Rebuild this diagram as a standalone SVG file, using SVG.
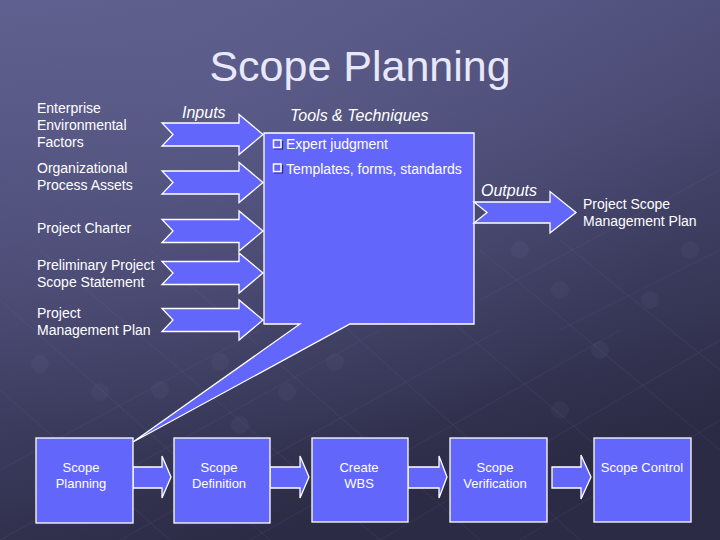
<svg xmlns="http://www.w3.org/2000/svg" width="720" height="540" viewBox="0 0 720 540">
<defs>
  <linearGradient id="bg" x1="0" y1="0" x2="0.35" y2="1">
    <stop offset="0" stop-color="#5e5e8e"/>
    <stop offset="0.45" stop-color="#4a4a74"/>
    <stop offset="1" stop-color="#2b2b45"/>
  </linearGradient>
  <radialGradient id="glow" cx="0.3" cy="0.15" r="0.7">
    <stop offset="0" stop-color="#6a6a9a" stop-opacity="0.35"/>
    <stop offset="1" stop-color="#6a6a9a" stop-opacity="0"/>
  </radialGradient>
  <style>
    .shape { fill: #6366fa; stroke: #ffffff; stroke-width: 1.3; stroke-linejoin: miter; }
    .lbl { font-family: "Liberation Sans", Arial, sans-serif; font-size: 14px; fill: #ffffff; }
    .it { font-family: "Liberation Sans", Arial, sans-serif; font-size: 16px; font-style: italic; fill: #ffffff; }
    .box { font-family: "Liberation Sans", Arial, sans-serif; font-size: 13px; fill: #ffffff; text-anchor: middle; }
    .grid { stroke: #8a8ab8; stroke-opacity: 0.09; stroke-width: 1.2; fill: none; }
    .dot { fill: #8a8ab8; fill-opacity: 0.07; }
    .chk { fill: none; stroke: #ffffff; stroke-width: 1.5; }
    .chks { fill: none; stroke: #2a2a70; stroke-width: 1.2; }
  </style>
</defs>

<rect x="0" y="0" width="720" height="540" fill="url(#bg)"/>
<rect x="0" y="0" width="720" height="540" fill="url(#glow)"/>

<g id="background-grid">
  <path class="grid" d="M0,390 L170,540 M0,300 L270,540 M40,250 L380,540 M150,250 L480,540 M260,250 L580,540 M380,260 L660,500 M480,250 L720,450 M560,240 L720,370"/>
  <path class="grid" d="M0,470 L260,330 M0,540 L380,330 M120,540 L500,330 M250,540 L620,330 M380,540 L720,340 M520,540 L720,420 M480,300 L720,170 M560,330 L720,250"/>
  <circle class="dot" cx="40" cy="364" r="9"/>
  <circle class="dot" cx="100" cy="392" r="9"/>
  <circle class="dot" cx="160" cy="390" r="9"/>
  <circle class="dot" cx="220" cy="362" r="9"/>
  <circle class="dot" cx="240" cy="425" r="9"/>
  <circle class="dot" cx="287" cy="392" r="9"/>
  <circle class="dot" cx="335" cy="362" r="9"/>
  <circle class="dot" cx="560" cy="410" r="9"/>
  <circle class="dot" cx="600" cy="350" r="9"/>
  <circle class="dot" cx="650" cy="300" r="9"/>
  <circle class="dot" cx="690" cy="250" r="9"/>
  <circle class="dot" cx="520" cy="250" r="9"/>
  <circle class="dot" cx="560" cy="290" r="9"/>
</g>

<text x="360" y="81" text-anchor="middle" font-family="'Liberation Sans', Arial, sans-serif" font-size="43" fill="#e8e8fb">Scope Planning</text>

<g id="connectors">
  <polygon class="shape" points="162,123 239,123 239,114.5 263,134.5 239,154.5 239,146 162,146 173,134.5"/>
  <polygon class="shape" points="162,171 239,171 239,162.5 263,182.5 239,202.5 239,194 162,194 173,182.5"/>
  <polygon class="shape" points="162,219.5 239,219.5 239,211 263,231 239,251 239,242.5 162,242.5 173,231"/>
  <polygon class="shape" points="162,261.5 239,261.5 239,253 263,273 239,293 239,284.5 162,284.5 173,273"/>
  <polygon class="shape" points="162,308.5 239,308.5 239,300 263,320 239,340 239,331.5 162,331.5 173,320"/>
  <polygon class="shape" points="133,467 162,467 162,456 171,477 162,498 162,488 133,488"/>
  <polygon class="shape" points="270,467 300,467 300,456 309,477 300,498 300,488 270,488"/>
  <polygon class="shape" points="408,467 439,467 439,456 447,477 439,498 439,488 408,488"/>
  <polygon class="shape" points="552,467 581,467 581,455 591,477 581,499 581,488 552,488 552,467"/>
</g>

<g id="input-labels">
  <text class="lbl" x="37" y="113">Enterprise</text>
  <text class="lbl" x="37" y="130">Environmental</text>
  <text class="lbl" x="37" y="146.5">Factors</text>
  <text class="lbl" x="37" y="173">Organizational</text>
  <text class="lbl" x="37" y="190">Process Assets</text>
  <text class="lbl" x="37" y="233">Project Charter</text>
  <text class="lbl" x="37" y="270">Preliminary Project</text>
  <text class="lbl" x="37" y="287">Scope Statement</text>
  <text class="lbl" x="37" y="318">Project</text>
  <text class="lbl" x="37" y="335">Management Plan</text>
  <text class="it" x="182" y="118">Inputs</text>
</g>

<g id="tools">
  <polygon class="shape" points="264,133 474,133 474,324 350,324 133,442 300,324 264,324"/>
  <text class="it" x="290" y="121">Tools &amp; Techniques</text>
  <path class="chks" d="M282.5,141 V149 H274.5"/>
  <rect class="chk" x="273.5" y="140" width="7.5" height="7.5"/>
  <text class="lbl" x="286" y="149">Expert judgment</text>
  <path class="chks" d="M282.5,165 V173 H274.5"/>
  <rect class="chk" x="273.5" y="164" width="7.5" height="7.5"/>
  <text class="lbl" x="286" y="173.5">Templates, forms, standards</text>
</g>

<g id="outputs">
  <polygon class="shape" points="474,202 550,202 550,191.5 576,212.5 550,233 550,223 474,223 487,212.5"/>
  <text class="it" x="481" y="196">Outputs</text>
  <text class="lbl" x="583" y="208.5">Project Scope</text>
  <text class="lbl" x="583" y="225.5">Management Plan</text>
</g>

<g id="scope-planning">
  <rect class="shape" x="36" y="438" width="97" height="85"/>
  <text class="box" x="81" y="472">Scope</text>
  <text class="box" x="81" y="488">Planning</text>
</g>
<g id="scope-definition">
  <rect class="shape" x="174" y="438" width="96" height="85"/>
  <text class="box" x="219" y="472">Scope</text>
  <text class="box" x="219" y="488">Definition</text>
</g>
<g id="create-wbs">
  <rect class="shape" x="312" y="438" width="96" height="84"/>
  <text class="box" x="359" y="472">Create</text>
  <text class="box" x="359" y="488">WBS</text>
</g>
<g id="scope-verification">
  <rect class="shape" x="450" y="438" width="97" height="84"/>
  <text class="box" x="495" y="472">Scope</text>
  <text class="box" x="495" y="488">Verification</text>
</g>
<g id="scope-control">
  <rect class="shape" x="594" y="438" width="97" height="84"/>
  <text class="box" x="642" y="472">Scope Control</text>
</g>
</svg>
